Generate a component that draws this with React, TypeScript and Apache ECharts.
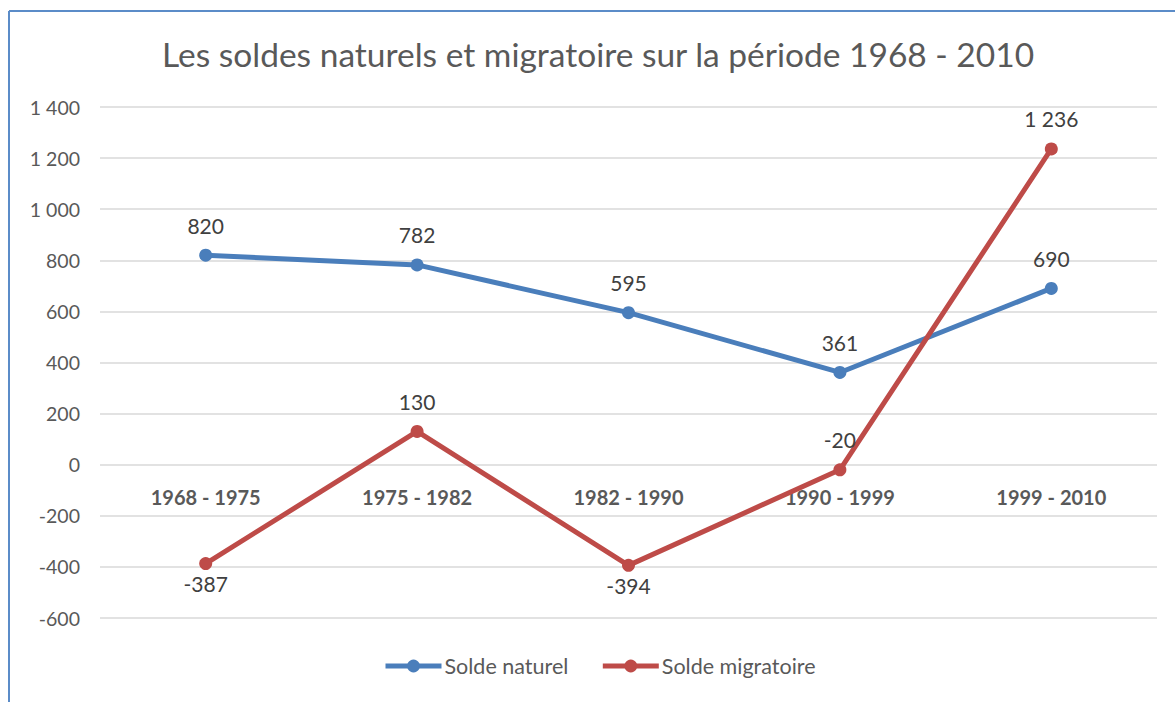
import React, { useEffect, useRef } from "react";
import * as echarts from "echarts";

const categories = ["1968 - 1975", "1975 - 1982", "1982 - 1990", "1990 - 1999", "1999 - 2010"];
const soldeNaturel = [820, 782, 595, 361, 690];
const soldeMigratoire = [-387, 130, -394, -20, 1236];
const migratoireLabelPos = ["bottom", "top", "bottom", "top", "top"];
const yMin = -600;
const yMax = 1400;

const fmt = (v: number) => {
  const s = Math.abs(v).toString().replace(/\B(?=(\d{3})+(?!\d))/g, " ");
  return (v < 0 ? "-" : "") + s;
};

const FONT = "Lato, 'Open Sans', sans-serif";
const GRID_TOP = 107;
const GRID_BOTTOM = 84;
const H = 702;

export default function App() {
  const ref = useRef<HTMLDivElement>(null);
  useEffect(() => {
    if (!ref.current) return;
    const chart = echarts.init(ref.current, undefined, { renderer: "svg" });
    const plotH = H - GRID_TOP - GRID_BOTTOM;
    // distance from the plot bottom up to the value 0
    const zeroOffset = (plotH * (0 - yMin)) / (yMax - yMin);
    const labelBase = {
      show: true,
      fontFamily: FONT,
      fontSize: 21,
      color: "#404040",
      formatter: (p: any) => fmt(p.value),
    };
    chart.setOption({
      animation: false,
      backgroundColor: "#ffffff",
      textStyle: { fontFamily: FONT },
      title: {
        text: "Les soldes naturels et migratoire sur la période 1968 - 2010",
        left: 157,
        top: 32,
        textStyle: { fontFamily: FONT, fontSize: 33.5, fontWeight: "normal", color: "#595959" },
      },
      legend: {
        bottom: 20,
        left: 378,
        itemWidth: 56,
        itemHeight: 16,
        itemGap: 32,
        lineStyle: { width: 5 },
        textStyle: { fontFamily: FONT, fontSize: 21.5, color: "#595959", padding: [0, 0, 0, -2] },
        data: ["Solde naturel", "Solde migratoire"],
      },
      grid: { left: 100, right: 18, top: GRID_TOP, bottom: GRID_BOTTOM },
      xAxis: {
        type: "category",
        data: categories,
        position: "bottom",
        offset: -zeroOffset,
        axisLine: { show: false, onZero: false },
        axisTick: { show: false },
        axisLabel: {
          margin: 22,
          fontFamily: FONT,
          fontSize: 20,
          fontWeight: "bold",
          color: "#595959",
        },
      },
      yAxis: {
        type: "value",
        min: yMin,
        max: yMax,
        interval: 200,
        axisLine: { show: false },
        axisTick: { show: false },
        splitLine: { lineStyle: { color: "#d9d9d9", width: 1.5 } },
        axisLabel: {
          margin: 20,
          fontFamily: FONT,
          fontSize: 19.5,
          color: "#595959",
          formatter: (v: number) => fmt(v),
        },
      },
      graphic: [
        { type: "line", shape: { x1: 9, y1: 11, x2: 1175, y2: 11 }, style: { stroke: "#5b8cc8", lineWidth: 2 } },
        { type: "line", shape: { x1: 9, y1: 11, x2: 9, y2: 702 }, style: { stroke: "#5b8cc8", lineWidth: 2 } },
      ],
      series: [
        {
          name: "Solde naturel",
          type: "line",
          data: soldeNaturel,
          symbol: "circle",
          symbolSize: 13,
          itemStyle: { color: "#4a7ebb" },
          lineStyle: { width: 5, color: "#4a7ebb" },
          label: { ...labelBase, position: "top", distance: 13 },
        },
        {
          name: "Solde migratoire",
          type: "line",
          data: soldeMigratoire.map((v, i) => ({
            value: v,
            label: {
              position: migratoireLabelPos[i],
              distance: migratoireLabelPos[i] === "bottom" ? 3 : 13,
            },
          })),
          symbol: "circle",
          symbolSize: 13,
          itemStyle: { color: "#be4b48" },
          lineStyle: { width: 5, color: "#be4b48" },
          label: { ...labelBase, position: "top", distance: 13 },
        },
      ],
    });
    return () => chart.dispose();
  }, []);
  return (
    <div
      ref={ref}
      style={{ position: "absolute", left: 0, top: 0, width: 1175, height: 702 }}
    />
  );
}
